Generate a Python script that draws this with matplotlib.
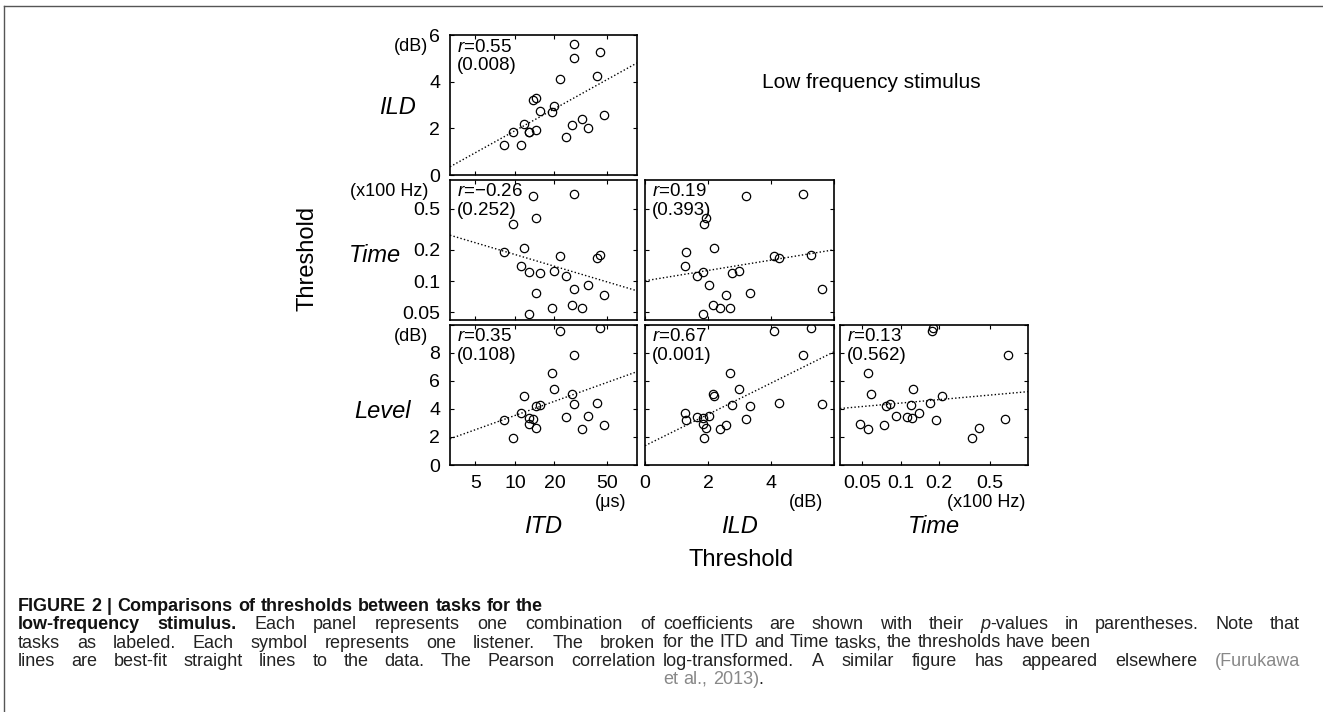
import numpy as np
import matplotlib
matplotlib.use('Agg')
import matplotlib.pyplot as plt
from matplotlib.lines import Line2D

plt.rcParams['font.family'] = ['Liberation Sans', 'DejaVu Sans']
plt.rcParams['mathtext.fontset'] = 'custom'
plt.rcParams['mathtext.rm'] = 'Liberation Sans'
plt.rcParams['mathtext.it'] = 'Liberation Sans:italic'

# thresholds of each listener, low-frequency stimulus
itd = [28.3, 44.6, 28.3, 42.5, 22.0, 14.4, 13.7, 20.0, 15.6, 19.2, 47.8,
       32.4, 11.7, 27.2, 36.1, 14.4, 9.7, 12.9, 12.9, 24.5, 8.2, 11.2]          # us
ild = [5.63, 5.27, 5.03, 4.25, 4.11, 3.32, 3.20, 2.97, 2.75, 2.71, 2.56,
       2.39, 2.20, 2.15, 2.03, 1.95, 1.86, 1.84, 1.84, 1.65, 1.29, 1.27]        # dB
time = [0.083, 0.178, 0.69, 0.168, 0.175, 0.077, 0.66, 0.124, 0.120, 0.055, 0.074,
        0.055, 0.21, 0.059, 0.092, 0.41, 0.36, 0.122, 0.048, 0.112, 0.19, 0.139]  # x100 Hz
level = [4.36, 9.8, 7.85, 4.45, 9.6, 4.2, 3.3, 5.4, 4.3, 6.55, 2.85,
         2.55, 4.95, 5.05, 3.48, 2.65, 1.9, 3.33, 2.95, 3.43, 3.25, 3.72]       # dB

data = {'itd': itd, 'ild': ild, 'time': time, 'level': level}

# (row, col, x task, y task, r, p)
panels = [
    (0, 0, 'itd', 'ild', '0.55', '0.008'),
    (1, 0, 'itd', 'time', '\u22120.26', '0.252'),
    (2, 0, 'itd', 'level', '0.35', '0.108'),
    (1, 1, 'ild', 'time', '0.19', '0.393'),
    (2, 1, 'ild', 'level', '0.67', '0.001'),
    (2, 2, 'time', 'level', '0.13', '0.562'),
]

scales = {'itd': 'log', 'ild': 'linear', 'time': 'log', 'level': 'linear'}
xlims = {'itd': (3.2, 85), 'ild': (0, 6), 'time': (0.0335, 0.99)}
ylims = {'ild': (0, 6), 'time': (0.042, 0.95), 'level': (0, 10)}
xticks = {'itd': ([5, 10, 20, 50], ['5', '10', '20', '50']),
          'ild': ([0, 2, 4, 6], ['0', '2', '4', '']),
          'time': ([0.05, 0.1, 0.2, 0.5], ['0.05', '0.1', '0.2', '0.5'])}
yticks = {'ild': ([0, 2, 4, 6], ['0', '2', '4', '6']),
          'time': ([0.05, 0.1, 0.2, 0.5], ['0.05', '0.1', '0.2', '0.5']),
          'level': ([0, 2, 4, 6, 8, 10], ['0', '2', '4', '6', '8', ''])}
units = {'itd': '(\u03bcs)', 'ild': '(dB)', 'time': '(x100 Hz)', 'level': '(dB)'}
xunit_pos = {'itd': 0.86, 'ild': 0.85, 'time': 0.78}
names = {'itd': 'ITD', 'ild': 'ILD', 'time': 'Time', 'level': 'Level'}

W, H = 1323, 712
cols = [(450, 637), (645, 834), (840, 1028)]
rows = [(35, 175), (180, 320), (325, 465)]

fig = plt.figure(figsize=(W / 100, H / 100), dpi=100)


def tf(v, scale):
    return np.log10(v) if scale == 'log' else np.asarray(v, dtype=float)


def itf(v, scale):
    return 10 ** v if scale == 'log' else v


for row, col, xk, yk, r, p in panels:
    l, rr = cols[col]
    t, b = rows[row]
    ax = fig.add_axes([l / W, 1 - b / H, (rr - l) / W, (b - t) / H])
    x = np.array(data[xk])
    y = np.array(data[yk])
    ax.set_xscale(scales[xk])
    ax.set_yscale(scales[yk])
    ax.set_xlim(xlims[xk])
    ax.set_ylim(ylims[yk])

    # best-fit straight line in the (log-)transformed space
    sx, sy = scales[xk], scales[yk]
    k, c = np.polyfit(tf(x, sx), tf(y, sy), 1)
    xs = np.linspace(tf(xlims[xk][0], sx), tf(xlims[xk][1], sx), 50)
    ax.plot(itf(xs, sx), itf(k * xs + c, sy), color='black', lw=1.0,
            linestyle=(0, (1, 1.6)))
    ax.plot(x, y, 'o', mfc='none', mec='black', ms=6, mew=0.9)

    ax.minorticks_off()
    ax.set_xticks(xticks[xk][0])
    ax.set_yticks(yticks[yk][0])
    if row == 2:
        ax.set_xticklabels(xticks[xk][1])
    else:
        ax.set_xticklabels([])
    if col == 0:
        ax.set_yticklabels(yticks[yk][1])
    else:
        ax.set_yticklabels([])
    ax.tick_params(which='both', direction='in', length=3, width=0.8,
                   top=True, right=True, labelsize=14, pad=7)
    for s in ax.spines.values():
        s.set_linewidth(1.2)

    ax.text(0.035, 0.975, '$r$=' + r + '\n(' + p + ')', transform=ax.transAxes,
            ha='left', va='top', fontsize=13.5, linespacing=1.15)

    if col == 0:
        ax.text(-0.115, 0.92, units[yk], transform=ax.transAxes,
                ha='right', va='center', fontsize=13)
    if row == 2:
        ax.text(xunit_pos[xk], -0.27, units[xk], transform=ax.transAxes,
                ha='center', va='center', fontsize=13)
        ax.text(0.5, -0.44, names[xk], transform=ax.transAxes,
                ha='center', va='center', fontsize=17, style='italic')

# row labels
for (cx, cy), yk in zip([(397, 108), (375, 255), (383, 412)], ['ild', 'time', 'level']):
    fig.text(cx / W, 1 - cy / H, names[yk], ha='center', va='center',
             fontsize=17, style='italic')

fig.text(307 / W, 1 - 258 / H, 'Threshold', rotation=90, ha='center',
         va='center', fontsize=17)
fig.text(741 / W, 1 - 560 / H, 'Threshold', ha='center', va='center', fontsize=17)
fig.text(871 / W, 1 - 83 / H, 'Low frequency stimulus', ha='center',
         va='center', fontsize=15)

# frame of the figure box (top and left rules)
for xs_, ys_ in [((4, 1323), (6, 6)), ((4, 4), (6, 712))]:
    fig.add_artist(Line2D([v / W for v in xs_], [1 - v / H for v in ys_],
                          color='#555555', lw=1.0))

# caption
caption_left = [
    ([('FIGURE 2 | Comparisons of thresholds between tasks for the', 'b')], False),
    ([('low-frequency stimulus.', 'b'), (' Each panel represents one combination of', 'n')], True),
    ([('tasks as labeled. Each symbol represents one listener. The broken', 'n')], True),
    ([('lines are best-fit straight lines to the data. The Pearson correlation', 'n')], True),
]
caption_right = [
    ([('coefficients are shown with their ', 'n'), ('p', 'i'),
      ('-values in parentheses. Note that', 'n')], True),
    ([('for the ITD and Time tasks, the thresholds have been', 'n')], False),
    ([('log-transformed. A similar figure has appeared elsewhere ', 'n'),
      ('(Furukawa', 'g')], True),
    ([('et al., 2013)', 'g'), ('.', 'n')], False),
]
styles = {'b': dict(fontweight='bold', color='#111111'),
          'n': dict(color='#222222'),
          'i': dict(style='italic', color='#222222'),
          'g': dict(color='#888888')}


def to_words(segs):
    words = []
    join = False
    for text, st in segs:
        parts = text.split(' ')
        for k, part in enumerate(parts):
            if part == '':
                join = False
                continue
            if k == 0 and join and words:
                words[-1].append((part, st))
            else:
                words.append([(part, st)])
            join = True
    return words


renderer = fig.canvas.get_renderer()
cap_size = 13


def put_line(segs, justify, x0, x1, y):
    words = to_words(segs)
    placed = []
    widths = []
    for w in words:
        pieces = []
        for txt, st in w:
            tx = fig.text(0, 1 - y / H, txt, fontsize=cap_size, va='baseline',
                          **styles[st])
            pieces.append((tx, tx.get_window_extent(renderer).width))
        placed.append(pieces)
        widths.append(sum(pw for _, pw in pieces))
    gap = cap_size * 100 / 72 * 0.3
    if justify and len(words) > 1:
        gap = (x1 - x0 - sum(widths)) / (len(words) - 1)
    xc = x0
    for pieces, ww in zip(placed, widths):
        for tx, pw in pieces:
            tx.set_x(xc / W)
            xc += pw
        xc += gap


for i, (segs, just) in enumerate(caption_left):
    put_line(segs, just, 18, 655, 611 + 18.3 * i)
for i, (segs, just) in enumerate(caption_right):
    put_line(segs, just, 663, 1300, 629 + 18.3 * i)

fig.savefig('out.png', dpi=100)
